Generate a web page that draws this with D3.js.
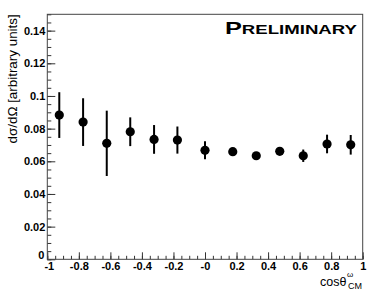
<!DOCTYPE html>
<html>
<head>
<meta charset="utf-8">
<script src="https://cdn.jsdelivr.net/npm/d3@7"></script>
<style>
  body { margin: 0; background: white; }
  text { font-family: "Liberation Sans", Helvetica, Arial, sans-serif; }
</style>
</head>
<body>
<script>
// data
var cosTheta = [-0.924, -0.773, -0.623, -0.474, -0.323, -0.175, 0.0, 0.176, 0.325, 0.474, 0.623, 0.774, 0.924]
var crossSection = [0.0883, 0.0840, 0.0710, 0.0781, 0.0734, 0.0730, 0.0667, 0.0659, 0.0634, 0.0661, 0.0634, 0.0706, 0.0701]
var crossSectionErr = [0.0140, 0.0146, 0.0200, 0.0088, 0.0088, 0.0083, 0.0055, 0.0022, 0.0015, 0.0018, 0.0038, 0.0057, 0.0060]

var xTickValues = [-1, -0.8, -0.6, -0.4, -0.2, 0, 0.2, 0.4, 0.6, 0.8, 1]
var xTickLabels = ['-1', '-0.8', '-0.6', '-0.4', '-0.2', '-0', '0.2', '0.4', '0.6', '0.8', '1']
var yTickValues = [0, 0.02, 0.04, 0.06, 0.08, 0.1, 0.12, 0.14]
var yTickLabels = ['0', '0.02', '0.04', '0.06', '0.08', '0.1', '0.12', '0.14']

var svgWidth = 382
var svgHeight = 297

var frameLeft = 47.3
var frameRight = 362.7
var frameTop = 14.3
var frameBottom = 259.3

var svgContainer = d3.select('body')
  .append('svg')
  .attr('width', svgWidth)
  .attr('height', svgHeight)

var x = d3.scaleLinear().domain([-1, 1]).range([frameLeft, frameRight])
var y = d3.scaleLinear().domain([0, 0.15]).range([frameBottom, frameTop])

// minor ticks
var xMinor = d3.range(-1, 1.0001, 0.05)
var yMinor = d3.range(0, 0.15001, 0.005)

svgContainer.append('g')
  .attr('transform', 'translate(0,' + frameBottom + ')')
  .call(d3.axisBottom(x).tickValues(xMinor).tickSize(-3.5).tickFormat(''))
  .call(g => g.select('.domain').remove())

svgContainer.append('g')
  .attr('transform', 'translate(' + frameLeft + ',0)')
  .call(d3.axisLeft(y).tickValues(yMinor).tickSize(-4).tickFormat(''))
  .call(g => g.select('.domain').remove())

// major ticks with labels
var xAxis = svgContainer.append('g')
  .attr('transform', 'translate(0,' + frameBottom + ')')
  .call(d3.axisBottom(x).tickValues(xTickValues).tickSize(-7).tickPadding(3)
    .tickFormat((d, i) => xTickLabels[i]))
xAxis.select('.domain').remove()
xAxis.selectAll('text')
  .attr('font-size', 11)
  .attr('font-weight', 'bold')
  .attr('font-family', '"Liberation Sans", Helvetica, Arial, sans-serif')
// nudge -1 a bit right so it clears the 0 of the y axis
xAxis.selectAll('text').filter((d, i) => i == 0).attr('dx', 1.5)

var yAxis = svgContainer.append('g')
  .attr('transform', 'translate(' + frameLeft + ',0)')
  .call(d3.axisLeft(y).tickValues(yTickValues).tickSize(-8).tickPadding(2)
    .tickFormat((d, i) => yTickLabels[i]))
yAxis.select('.domain').remove()
yAxis.selectAll('text')
  .attr('font-size', 11)
  .attr('font-weight', 'bold')
  .attr('font-family', '"Liberation Sans", Helvetica, Arial, sans-serif')
yAxis.selectAll('text').filter((d, i) => i == 0).attr('dy', '-0.05em').attr('x', -3)

svgContainer.selectAll('.tick line').attr('stroke', '#333')

// frame
svgContainer.append('rect')
  .attr('x', frameLeft)
  .attr('y', frameTop)
  .attr('width', frameRight - frameLeft)
  .attr('height', frameBottom - frameTop)
  .attr('fill', 'none')
  .attr('stroke', '#444')
  .attr('stroke-width', 1)

// points with error bars
var points = cosTheta.map((c, i) => ({ c: c, v: crossSection[i], e: crossSectionErr[i] }))

svgContainer.append('g').selectAll('line')
  .data(points)
  .enter()
  .append('line')
  .attr('x1', d => x(d.c))
  .attr('x2', d => x(d.c))
  .attr('y1', d => y(d.v - d.e))
  .attr('y2', d => y(d.v + d.e))
  .attr('stroke', 'black')
  .attr('stroke-width', 2)

svgContainer.append('g').selectAll('circle')
  .data(points)
  .enter()
  .append('circle')
  .attr('cx', d => x(d.c))
  .attr('cy', d => y(d.v))
  .attr('r', 4.6)
  .attr('fill', 'black')

// y title
svgContainer.append('text')
  .attr('transform', 'translate(17,' + frameTop + ') rotate(-90)')
  .attr('text-anchor', 'end')
  .attr('font-size', 13.4)
  .text('dσ/dΩ [arbitrary units]')

// x title
svgContainer.append('text')
  .attr('x', 346.5)
  .attr('y', 286)
  .attr('text-anchor', 'end')
  .attr('font-size', 12.5)
  .text('cosθ')
svgContainer.append('text')
  .attr('x', 347)
  .attr('y', 276.5)
  .attr('font-size', 8)
  .text('ω')
svgContainer.append('text')
  .attr('x', 362)
  .attr('y', 289)
  .attr('text-anchor', 'end')
  .attr('font-size', 9)
  .text('CM')

// preliminary label
var prelim = svgContainer.append('text')
  .attr('x', 225)
  .attr('y', 34.3)
  .attr('font-weight', 'bold')
  .attr('textLength', 132)
  .attr('lengthAdjust', 'spacingAndGlyphs')
prelim.append('tspan').attr('font-size', 17).text('P')
prelim.append('tspan').attr('font-size', 12.5).text('RELIMINARY')
</script>
</body>
</html>
